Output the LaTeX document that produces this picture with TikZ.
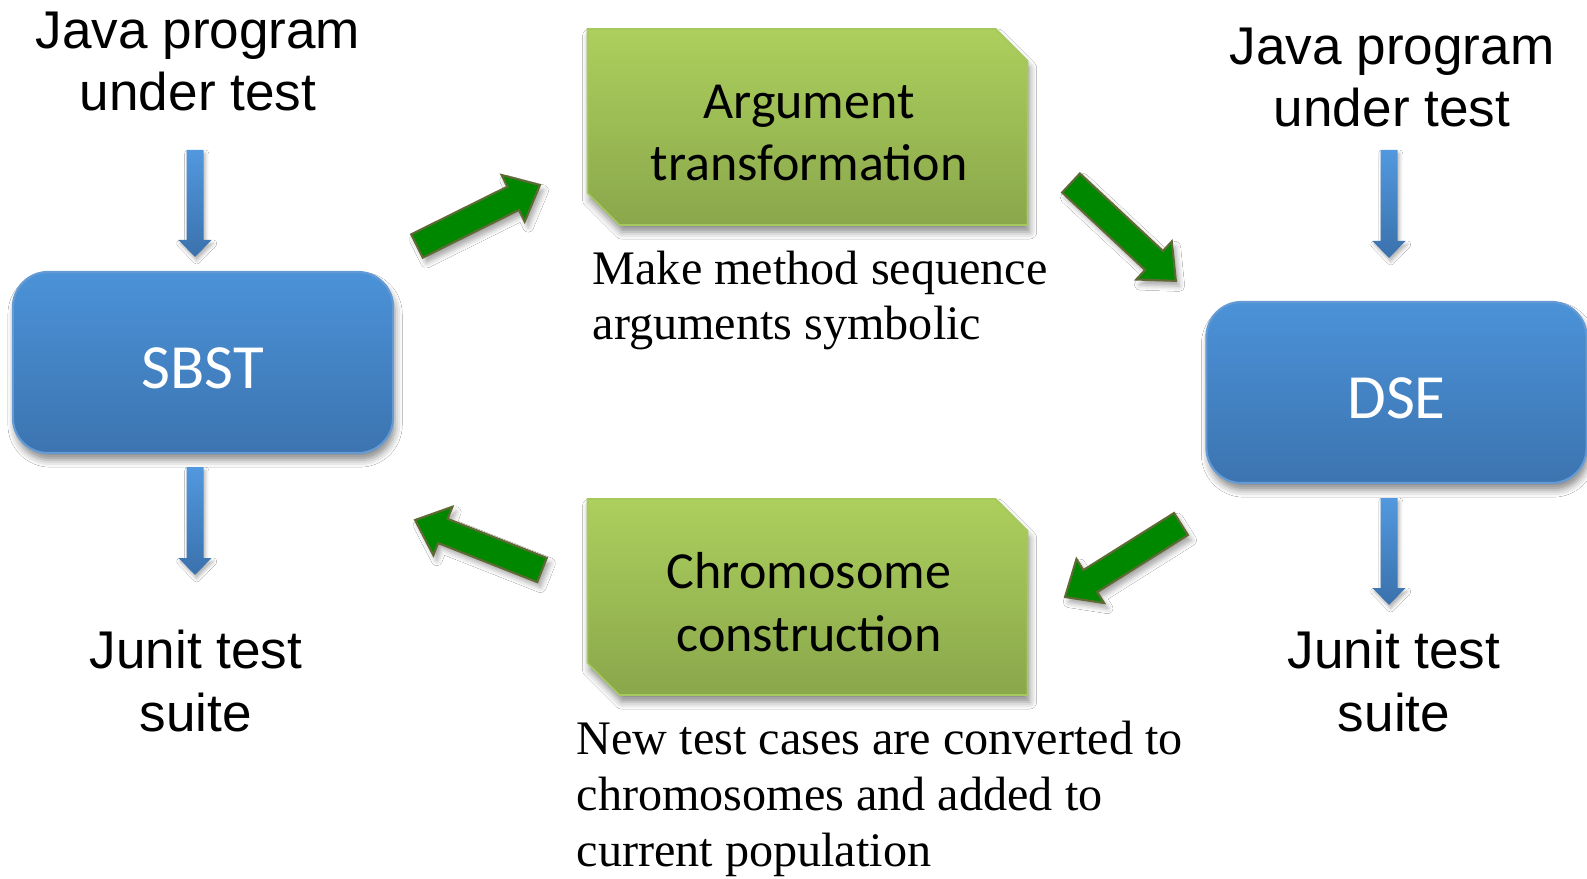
\documentclass[tikz,border=0pt]{standalone}
\usepackage{fontspec}
\setmainfont{Liberation Serif}
\newfontfamily\arialfont{Liberation Sans}
\newfontfamily\calibrifont{Carlito}
\usetikzlibrary{calc,shadows.blur}

\definecolor{boxbluetop}{RGB}{75,146,216}
\definecolor{boxbluebot}{RGB}{60,116,176}
\definecolor{boxblueedge}{RGB}{100,155,212}
\definecolor{boxgreentop}{RGB}{172,207,93}
\definecolor{boxgreenbot}{RGB}{138,167,75}
\definecolor{boxgreenedge}{RGB}{165,200,95}
\definecolor{flowgreen}{RGB}{0,135,0}
\definecolor{flowedge}{RGB}{94,106,52}
\definecolor{feedtop}{RGB}{82,152,222}
\definecolor{feedbot}{RGB}{58,113,172}

\newdimen\flax \newdimen\flay \newdimen\flbx \newdimen\flby

\tikzset{
  toolbox/.style={rectangle, rounded corners=10pt, minimum width=3.80cm,
    minimum height=1.81cm, inner sep=0pt,
    top color=boxbluetop, bottom color=boxbluebot, draw=boxblueedge, line width=0.6pt,
    text=white, font=\calibrifont\fontsize{17.9}{21}\selectfont,
    text height=0.61cm, text depth=0.10cm,
    blur shadow={shadow xshift=0.6pt, shadow yshift=-2pt, shadow blur radius=2pt, shadow opacity=45}},
  stageshape/.style={top color=boxgreentop, bottom color=boxgreenbot, draw=boxgreenedge,
    line width=0.5pt,
    blur shadow={shadow xshift=0.6pt, shadow yshift=-2pt, shadow blur radius=2pt, shadow opacity=45}},
  stagetext/.style={align=center, inner sep=0pt,
    font=\calibrifont\fontsize{14.8}{17.9}\selectfont},
  plain/.style={align=center, anchor=base, inner sep=0pt,
    font=\arialfont\fontsize{15.1}{17.9}\selectfont},
  caption/.style={align=left, anchor=base west, inner sep=0pt,
    font=\fontsize{13.7}{15.9}\selectfont},
  flowarrow/.style={fill=flowgreen, draw=flowedge, line width=0.6pt, line join=miter,
    blur shadow={shadow xshift=1pt, shadow yshift=-1.5pt, shadow blur radius=1.5pt, shadow opacity=35}},
  feedarrow/.style={top color=feedtop, bottom color=feedbot,
    blur shadow={shadow xshift=0.5pt, shadow yshift=-1pt, shadow blur radius=1pt, shadow opacity=30}},
}

% green box with two cut corners (top right, bottom left) around a centre point
\newcommand\stageplate[1]{%
  \path[stageshape] ($(#1)+(-220,-98)$) -- ($(#1)+(188,-98)$) -- ($(#1)+(220,-66)$)
    -- ($(#1)+(220,98)$) -- ($(#1)+(-188,98)$) -- ($(#1)+(-220,66)$) -- cycle;
}
% broad green block arrow from one named point to another
\newcommand\flowblock[2]{%
  \pgfextractx{\flax}{\pgfpointanchor{#1}{center}}%
  \pgfextracty{\flay}{\pgfpointanchor{#1}{center}}%
  \pgfextractx{\flbx}{\pgfpointanchor{#2}{center}}%
  \pgfextracty{\flby}{\pgfpointanchor{#2}{center}}%
  \pgfmathsetmacro\flang{atan2(\flby-\flay,\flbx-\flax)}%
  \pgfmathsetmacro\fllen{veclen(\flbx-\flax,\flby-\flay)}%
  \path[flowarrow, shift={(#1)}, rotate=\flang]
    (0pt,3.7pt) -- ({\fllen pt-8.5pt},3.7pt) -- ({\fllen pt-8.5pt},7.4pt)
    -- (\fllen pt,0pt) -- ({\fllen pt-8.5pt},-7.4pt) -- ({\fllen pt-8.5pt},-3.7pt)
    -- (0pt,-3.7pt) -- cycle;
}
% narrow blue downward arrow
\newcommand\feedblock[2]{%
  \path[feedarrow] ($(#1)+(-8.5,0)$) -- ($(#2)+(-8.5,-17)$) -- ($(#2)+(-16.5,-17)$)
    -- (#2) -- ($(#2)+(16.5,-17)$) -- ($(#2)+(8.5,-17)$) -- ($(#1)+(8.5,0)$) -- cycle;
}

\begin{document}
\begin{tikzpicture}[x=0.01cm, y=-0.01cm]
\fill[white] (0,0) rectangle (1587,879);
\useasboundingbox (0,0) rectangle (1587,879);

% tools
\node[toolbox] (sbst) at (203,362.5) {SBST};
\node[toolbox] (dse) at (1396.5,392.5) {DSE};

% transformation stages
\coordinate (argt-plate) at (807.5,127);
\coordinate (chrom-plate) at (807.5,597);
\stageplate{argt-plate}
\stageplate{chrom-plate}
\node[stagetext] (argt) at (809,133) {Argument\\transformation};
\node[stagetext] (chrom) at (809,602) {Chromosome\\construction};

% inputs and outputs
\node[plain] (javaL) at (198,111) {Java program\\under test};
\node[plain] (javaR) at (1392,127) {Java program\\under test};
\node[plain] (junitL) at (196,731) {Junit test\\suite};
\node[plain] (junitR) at (1394,731) {Junit test\\suite};

% explanations
\node[caption] (argnote) at (592,340) {Make method sequence\\arguments symbolic};
\node[caption] (chromnote) at (576,866) {New test cases are converted to\\chromosomes and added to\\current population};

% ends of the vertical arrows
\coordinate (javaL-out) at (195,150);
\coordinate (sbst-in) at (195,257);
\coordinate (sbst-out) at (195,467);
\coordinate (junitL-in) at (195,575);
\coordinate (javaR-out) at (1389,150);
\coordinate (dse-in) at (1389,258);
\coordinate (dse-out) at (1389,498);
\coordinate (junitR-in) at (1389,605);

\feedblock{javaL-out}{sbst-in}
\feedblock{sbst-out}{junitL-in}
\feedblock{javaR-out}{dse-in}
\feedblock{dse-out}{junitR-in}

% ends of the loop arrows
\coordinate (sbst-to) at (417,246);
\coordinate (argt-from) at (540,185);
\coordinate (argt-to) at (1071,183);
\coordinate (dse-from) at (1176,281);
\coordinate (dse-to) at (1181,524);
\coordinate (chrom-from) at (1065,597);
\coordinate (chrom-to) at (542,570);
\coordinate (sbst-from) at (415,520);

\flowblock{sbst-to}{argt-from}
\flowblock{argt-to}{dse-from}
\flowblock{dse-to}{chrom-from}
\flowblock{chrom-to}{sbst-from}
\end{tikzpicture}
\end{document}
